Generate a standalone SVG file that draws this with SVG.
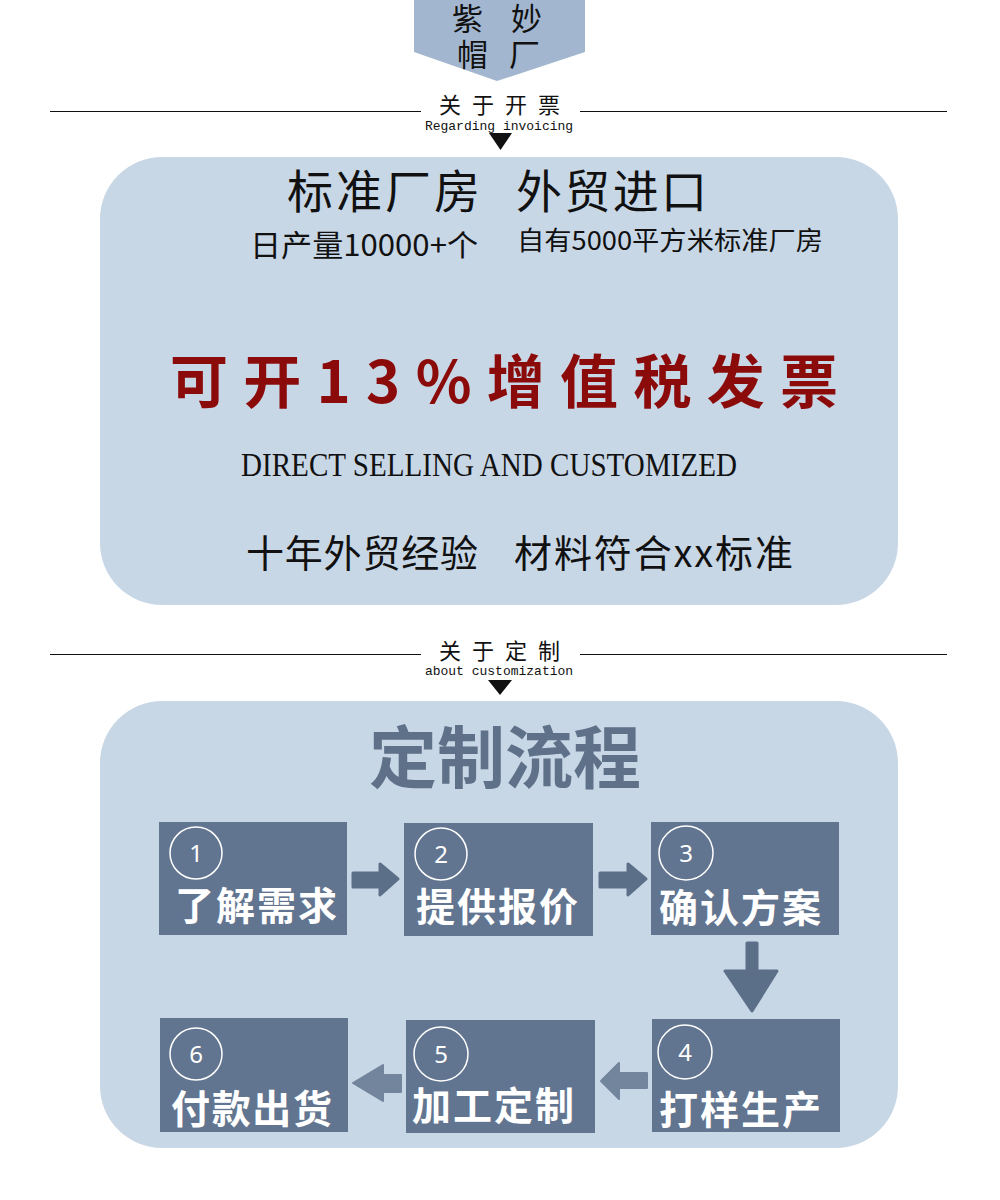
<svg xmlns="http://www.w3.org/2000/svg" width="1000" height="1200" viewBox="0 0 1000 1200">
<defs>
<style>
.cjk{font-family:"Noto Sans CJK SC","Noto Sans",sans-serif;}
.sec{font-family:"Noto Sans CJK SC",sans-serif;font-size:22px;fill:#111;letter-spacing:11px;}
.sub{font-family:"Liberation Mono",monospace;font-size:13px;fill:#111;}
.rule{stroke:#111;stroke-width:1;}
.panel{fill:#c8d7e6;}
.box{fill:#627590;}
.circ{fill:none;stroke:#fff;stroke-width:1.5;}
.num{font-family:"Noto Sans","Liberation Sans",sans-serif;font-size:24px;fill:#fff;text-anchor:middle;}
.lbl{font-family:"Noto Sans CJK SC",sans-serif;font-size:39px;font-weight:bold;fill:#fff;}
.arr{fill:#5c6f88;stroke:#5c6f88;stroke-width:3;stroke-linejoin:round;}
.arrL{fill:#72859d;stroke:#72859d;stroke-width:2;stroke-linejoin:round;}
</style>
</defs>
<rect width="1000" height="1200" fill="#fff"/>

<g id="badge">
<path d="M414 0 H585 V52 L497 81 L414 52 Z" fill="#a3b6cf"/>
<text class="cjk" x="452" y="30" font-size="31" fill="#111" xml:space="preserve" textLength="90" lengthAdjust="spacing">紫 妙</text>
<text class="cjk" x="457" y="66" font-size="31" fill="#111" xml:space="preserve" textLength="83" lengthAdjust="spacing">帽 厂</text>
</g>

<g id="header-invoice">
<line class="rule" x1="50" y1="111.5" x2="421" y2="111.5"/>
<line class="rule" x1="580" y1="111.5" x2="947" y2="111.5"/>
<text class="sec" x="439" y="113">关于开票</text>
<text class="sub" x="499" y="130" text-anchor="middle">Regarding invoicing</text>
<path d="M489 133 H512 L500.5 150 Z" fill="#111"/>
</g>

<g id="panel-invoice">
<rect class="panel" x="100" y="157" width="798" height="448" rx="62"/>
<text class="cjk" x="287" y="208" font-size="46" fill="#111" textLength="193" lengthAdjust="spacing">标准厂房</text>
<text class="cjk" x="516" y="208" font-size="46" fill="#111" textLength="191" lengthAdjust="spacing">外贸进口</text>
<text class="cjk" x="250" y="256" font-size="30" fill="#111" textLength="228" lengthAdjust="spacingAndGlyphs">日产量10000+个</text>
<text class="cjk" x="517" y="250" font-size="26" fill="#111" textLength="306" lengthAdjust="spacingAndGlyphs">自有5000平方米标准厂房</text>
<text class="cjk" x="170" y="403" font-size="58" font-weight="bold" fill="#8b0a0a" textLength="668" lengthAdjust="spacing">可开13%增值税发票</text>
<text x="241" y="476" font-family="Liberation Serif,serif" font-size="34" fill="#111" textLength="496" lengthAdjust="spacingAndGlyphs">DIRECT SELLING AND CUSTOMIZED</text>
<text class="cjk" x="246" y="567" font-size="38" fill="#111" textLength="232" lengthAdjust="spacing">十年外贸经验</text>
<text class="cjk" x="514" y="567" font-size="38" fill="#111" textLength="279" lengthAdjust="spacing">材料符合xx标准</text>
</g>

<g id="header-custom">
<line class="rule" x1="50" y1="654.5" x2="421" y2="654.5"/>
<line class="rule" x1="580" y1="654.5" x2="947" y2="654.5"/>
<text class="sec" x="439" y="659">关于定制</text>
<text class="sub" x="499" y="675" text-anchor="middle">about customization</text>
<path d="M488 680 H512 L500 695 Z" fill="#111"/>
</g>

<g id="panel-custom">
<rect class="panel" x="100" y="701" width="798" height="447" rx="62"/>
<text class="cjk" x="369" y="783" font-size="68" font-weight="bold" fill="#5f7189">定制流程</text>
</g>

<g id="step1">
<rect class="box" x="159" y="822" width="188" height="113"/>
<circle class="circ" cx="196" cy="853" r="26"/>
<text class="num" x="196" y="862">1</text>
<text class="lbl" x="175" y="920" textLength="162" lengthAdjust="spacing">了解需求</text>
</g>
<g id="step2">
<rect class="box" x="404" y="823" width="189" height="113"/>
<circle class="circ" cx="441" cy="854" r="26"/>
<text class="num" x="441" y="863">2</text>
<text class="lbl" x="416" y="921" textLength="162" lengthAdjust="spacing">提供报价</text>
</g>
<g id="step3">
<rect class="box" x="651" y="822" width="188" height="113"/>
<circle class="circ" cx="686" cy="853" r="27"/>
<text class="num" x="686" y="862">3</text>
<text class="lbl" x="659" y="922" textLength="162" lengthAdjust="spacing">确认方案</text>
</g>
<g id="step4">
<rect class="box" x="652" y="1019" width="188" height="113"/>
<circle class="circ" cx="685" cy="1052" r="27"/>
<text class="num" x="685" y="1061">4</text>
<text class="lbl" x="659" y="1124" textLength="162" lengthAdjust="spacing">打样生产</text>
</g>
<g id="step5">
<rect class="box" x="406" y="1020" width="189" height="113"/>
<circle class="circ" cx="441" cy="1054" r="27"/>
<text class="num" x="441" y="1063">5</text>
<text class="lbl" x="412" y="1120" textLength="162" lengthAdjust="spacing">加工定制</text>
</g>
<g id="step6">
<rect class="box" x="160" y="1018" width="188" height="114"/>
<circle class="circ" cx="196" cy="1054" r="26"/>
<text class="num" x="196" y="1063">6</text>
<text class="lbl" x="171" y="1123" textLength="161" lengthAdjust="spacing">付款出货</text>
</g>

<g id="connectors">
<path class="arr" d="M353 873 H380 V864 L398 879 L380 895 V887 H353 Z"/>
<path class="arr" d="M600 873 H628 V864 L646 879 L628 895 V887 H600 Z"/>
<path class="arr" d="M747 943 H757 V971 H777 L752 1011 L725 971 H747 Z"/>
<path class="arrL" d="M647 1073 H619 V1063 L601 1081 L619 1099 V1088 H647 Z"/>
<path class="arrL" d="M401 1075 H383 V1065 L353 1083 L383 1101 V1092 H401 Z"/>
</g>
</svg>
